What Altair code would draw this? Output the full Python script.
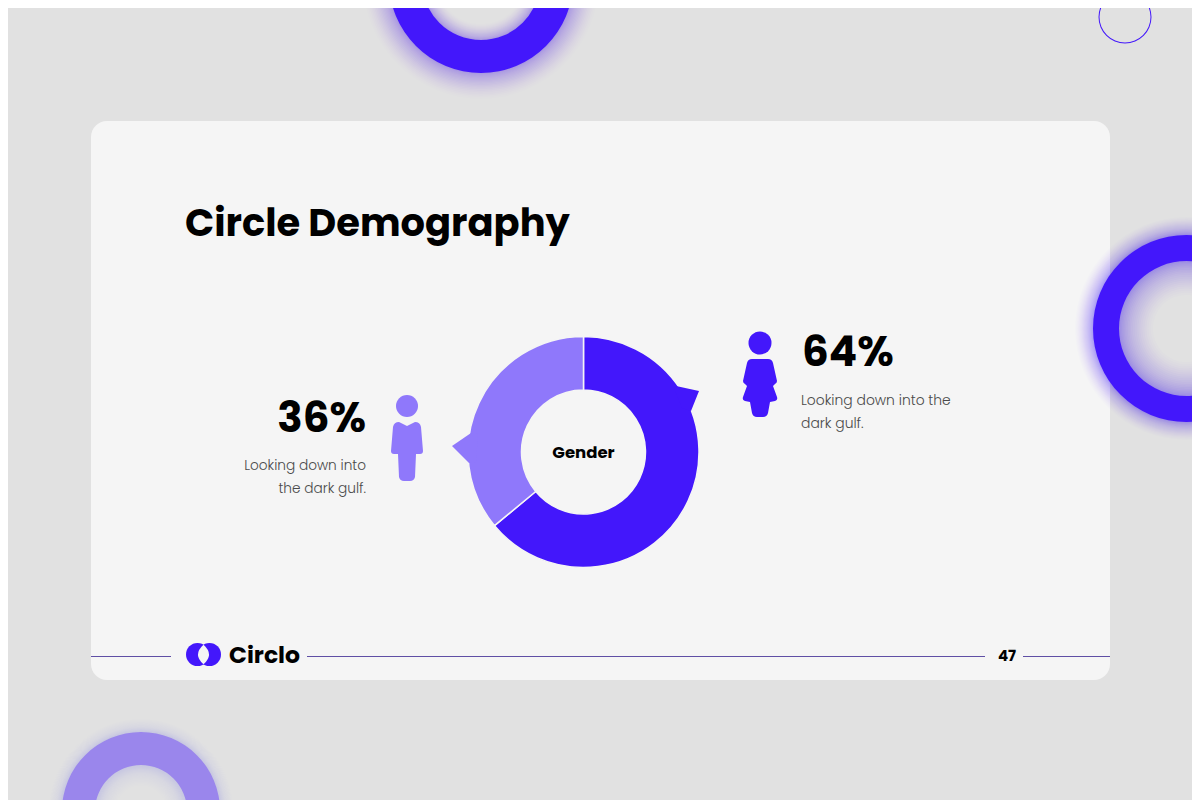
import altair as alt
import pandas as pd

# ---- chart values
GENDERS = ["Women", "Men"]
SHARES = [64, 36]
RANKS = [1, 2]
PERCENT_LABELS = ["64%", "36%"]
TITLE = "Circle Demography"
CENTER_LABEL = "Gender"
BRAND = "Circlo"
PAGE = "47"
BLURB_RIGHT = ["Looking down into the", "dark gulf."]
BLURB_LEFT = ["Looking down into", "the dark gulf."]

DARK = "#4317fb"
LIGHT = "#8f78fb"
FADED = "#9a86ec"
BG = "#e1e1e1"
CARD = "#f5f5f5"
HEAD = "Poppins, Inter, sans-serif"
BODY = "Poppins, 'Open Sans', sans-serif"

one = alt.Data(values=[{"k": 1}])
OX, OY = 8, 8  # page margin


def X(v):
    return alt.value(v - OX)


def Y(v):
    return alt.value(v - OY)


def ring(cx, cy, r_out, r_in, color, opacity=1.0):
    return alt.Chart(one).mark_arc(
        theta=0, theta2=6.2832, radius=r_out, radius2=max(r_in, 0),
        color=color, opacity=opacity
    ).encode(x=X(cx), y=Y(cy))


def glow(cx, cy, r_out, r_in, ext_out, ext_in, alpha, color, n=20):
    out = []
    for i in range(n, 0, -1):
        t = i / n
        f = t ** 1.3
        a = alpha * (0.25 + 0.75 * (1 - t))
        out.append(ring(cx, cy, r_out + ext_out * f, r_in - ext_in * f, color, round(a, 4)))
    return out


def shape(cx, cy, path, color, size=10000):
    return alt.Chart(one).mark_point(
        shape=path, filled=True, size=size, color=color, opacity=1, strokeWidth=0
    ).encode(x=X(cx), y=Y(cy))


def unit_path(cx, cy, cmds):
    """Absolute picture points to the symbol's unit space (size 10000 -> 50 px per unit)."""
    parts = []
    for c in cmds:
        parts.append(c[0])
        vals = c[1:]
        coords = []
        for j in range(0, len(vals), 2):
            coords.append(f"{(vals[j]-cx)/50:.4f},{(vals[j+1]-cy)/50:.4f}")
        parts.append(" ".join(coords))
    return " ".join(parts)


def text(t, x, y, size, weight, font, color="#000000", align="left"):
    return alt.Chart(one).mark_text(
        text=t, align=align, baseline="alphabetic", fontSize=size,
        fontWeight=weight, font=font, color=color
    ).encode(x=X(x), y=Y(y))


layers = []

# top ring
layers += glow(481, -19, 92, 59, 26, 16, 0.032, DARK)
layers.append(ring(481, -19, 92, 59, DARK))
# thin ring
layers.append(ring(1125, 17, 26.5, 25.5, DARK))
# bottom-left ring
layers += glow(141, 811, 79, 46, 14, 22, 0.022, FADED)
layers.append(ring(141, 811, 79, 46, FADED))

# card
layers.append(
    alt.Chart(one).mark_rect(color=CARD, cornerRadius=16).encode(
        x=X(91), x2=X(1110), y=Y(121), y2=Y(680)
    )
)

# right ring (above the card edge)
layers += glow(1186.5, 328.5, 93.5, 67.5, 18, 34, 0.04, DARK)
layers.append(ring(1186.5, 328.5, 93.5, 67.5, DARK))

# footer rules
for x0, x1 in [(91, 171), (307, 985), (1023, 1110)]:
    layers.append(
        alt.Chart(one).mark_rule(color="#5f4fa5", strokeWidth=1).encode(
            x=X(x0), x2=X(x1), y=Y(656.5)
        )
    )

# donut
donut = pd.DataFrame({"gender": GENDERS, "share": SHARES, "rank": RANKS})
layers.append(
    alt.Chart(donut).mark_arc(
        outerRadius=115.5, innerRadius=62, stroke=CARD, strokeWidth=1.5
    ).encode(
        theta=alt.Theta("share:Q", stack=True),
        order=alt.Order("rank:Q"),
        color=alt.Color(
            "gender:N", legend=None,
            scale=alt.Scale(domain=GENDERS, range=[DARK, LIGHT]),
        ),
        x=X(583.5),
        y=Y(452),
    )
)

# donut callout tips
tip_dark = unit_path(684, 396, [("M", 674, 388), ("L", 676, 386), ("L", 699, 391), ("L", 691, 411), ("L", 682, 408), ("Z",)])
tip_light = unit_path(462, 448, [("M", 478, 434), ("L", 471, 433), ("L", 452, 446), ("L", 469, 463), ("L", 476, 462), ("Z",)])
layers.append(shape(684, 396, tip_dark, DARK))
layers.append(shape(462, 448, tip_light, LIGHT))

# person icons
woman = unit_path(760, 388, [
    ("M", 752, 359), ("L", 768, 359), ("Q", 772, 359, 773, 363),
    ("L", 777, 381), ("Q", 777, 383, 775, 384), ("L", 773, 386),
    ("L", 777, 397), ("Q", 778, 400, 775, 401), ("L", 770, 402),
    ("L", 768, 413), ("Q", 767, 417, 763, 417), ("L", 757, 417),
    ("Q", 753, 417, 752, 413), ("L", 750, 402), ("L", 745, 401),
    ("Q", 742, 400, 743, 397), ("L", 747, 386), ("L", 745, 384),
    ("Q", 743, 383, 743, 381), ("L", 747, 363), ("Q", 748, 359, 752, 359), ("Z",),
])
man = unit_path(407, 450, [
    ("M", 399, 422), ("L", 407, 426), ("L", 415, 422), ("Q", 420, 422, 421, 427),
    ("L", 423, 451), ("Q", 423, 454, 420, 454), ("L", 416, 454), ("L", 415, 477),
    ("Q", 414, 481, 410, 481), ("L", 404, 481), ("Q", 400, 481, 399, 477),
    ("L", 398, 454), ("L", 394, 454), ("Q", 391, 454, 391, 451), ("L", 393, 427),
    ("Q", 394, 422, 399, 422), ("Z",),
])
layers.append(ring(760, 343, 11.5, 0, DARK))
layers.append(shape(760, 388, woman, DARK))
layers.append(ring(407, 406, 11, 0, LIGHT))
layers.append(shape(407, 450, man, LIGHT))

# logo
lens = unit_path(203.5, 654.5, [
    ("M", 203.5, 644.7), ("Q", 192.5, 654.5, 203.5, 664.3),
    ("Q", 214.5, 654.5, 203.5, 644.7), ("Z",),
])
layers.append(ring(197.5, 654.5, 11.5, 0, DARK))
layers.append(ring(209.5, 654.5, 11.5, 0, DARK))
layers.append(shape(203.5, 654.5, lens, CARD))

# texts
layers.append(text(TITLE, 185, 236, 38.4, 700, HEAD))
layers.append(text(CENTER_LABEL, 583.5, 458, 16.5, 700, HEAD, align="center"))
layers.append(text(PERCENT_LABELS[0], 802, 366, 42, 700, HEAD))
layers.append(text(PERCENT_LABELS[1], 366, 432, 42, 700, HEAD, align="right"))
for i, line in enumerate(BLURB_RIGHT):
    layers.append(text(line, 801, 405 + 22.5 * i, 13.9, 300, BODY, color="#4a4a4a"))
for i, line in enumerate(BLURB_LEFT):
    layers.append(text(line, 366, 470 + 22.5 * i, 13.7, 300, BODY, color="#4a4a4a", align="right"))
layers.append(text(BRAND, 229, 663, 23.5, 700, HEAD))
layers.append(text(PAGE, 1007, 661, 15, 700, HEAD, align="center"))

chart = alt.layer(*layers).properties(
    width=1184, height=792, padding=0, background=BG,
    autosize=alt.AutoSizeParams(type="none"),
).configure_view(stroke=None)

chart.save("out.html", embed_options={"renderer": "svg", "actions": False})
